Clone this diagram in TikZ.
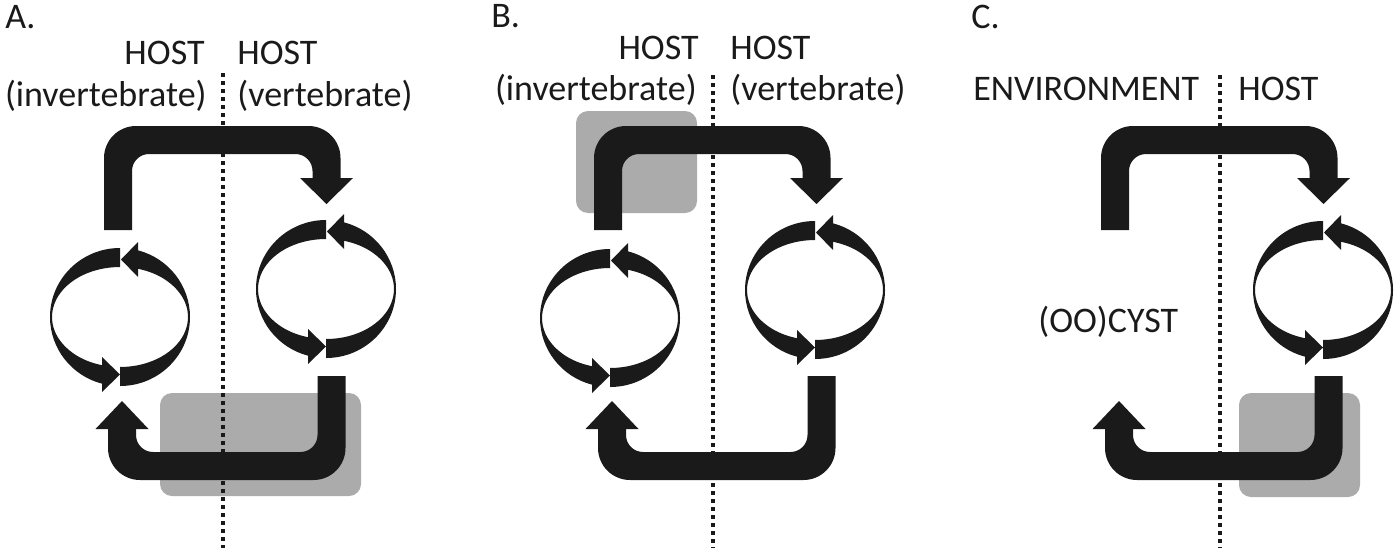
\documentclass[tikz,border=0pt]{standalone}
\usepackage{fontspec}
\setmainfont{Carlito}
\definecolor{ink}{HTML}{1A1A1A}
\definecolor{shade}{HTML}{ABABAB}
\tikzset{
  lbl/.style={inner sep=0pt, font=\fontsize{18}{21}\selectfont, text=ink},
  panellbl/.style={inner sep=0pt, font=\fontsize{18}{21}\selectfont, text=ink},
  inkfill/.style={fill=ink},
  shadebox/.style={fill=shade, rounded corners=6pt},
  divider/.style={draw=ink, line width=2pt, dash pattern=on 2pt off 2pt}
}
\newcommand\TopArrow[1]{%
  \pgfmathsetmacro\xl{#1-105}\pgfmathsetmacro\xr{#1+103.5}%
  \fill[inkfill] (\xl-14,230) -- (\xl-14,158) arc[start angle=180,end angle=270,radius=32]
    -- (\xr-18,126) arc[start angle=270,end angle=360,radius=32]
    -- (\xr+14,184) -- (\xr-14,184) -- (\xr-14,171)
    arc[start angle=0,end angle=-90,radius=17]
    -- (\xl+31,154) arc[start angle=-90,end angle=-180,radius=17]
    -- (\xl+14,230) -- cycle;
  \fill[inkfill] (\xr-26.5,178) -- (\xr+26.5,178) -- (\xr,204) -- cycle;
}
\newcommand\BottomArrow[1]{%
  \pgfmathsetmacro\xl{#1-101}\pgfmathsetmacro\xr{#1+108.5}%
  \fill[inkfill] (\xr+14,376) -- (\xr+14,448) arc[start angle=0,end angle=90,radius=32]
    -- (\xl+18,480) arc[start angle=90,end angle=180,radius=32]
    -- (\xl-14,424) -- (\xl+14,424) -- (\xl+14,435)
    arc[start angle=180,end angle=90,radius=17]
    -- (\xr-31,452) arc[start angle=90,end angle=0,radius=17]
    -- (\xr-14,376) -- cycle;
  \fill[inkfill] (\xl-26.5,429) -- (\xl+26.5,429) -- (\xl,401) -- cycle;
}
\newcommand\CycleRing[2]{%
  \fill[inkfill] (#1,#2-69) arc[start angle=270,end angle=105,x radius=70,y radius=69]
    -- ({#1+68*cos(105)},{#2+50*sin(105)}) arc[start angle=105,end angle=270,x radius=68,y radius=50] -- cycle;
  \fill[inkfill] (#1,#2+69) arc[start angle=90,end angle=-75,x radius=70,y radius=69]
    -- ({#1+68*cos(-75)},{#2+50*sin(-75)}) arc[start angle=-75,end angle=90,x radius=68,y radius=50] -- cycle;
  \fill[inkfill] (#1+18,#2-75) -- (#1+18,#2-40) -- (#1+1,#2-57.5) -- cycle;
  \fill[inkfill] (#1-18,#2+75) -- (#1-18,#2+40) -- (#1,#2+57.5) -- cycle;
}
\begin{document}
\begin{tikzpicture}[x=0.5pt,y=-0.5pt]
\useasboundingbox (0,0) rectangle (1400,557);
% grey boxes
\fill[shadebox] (160,393) rectangle (361,496);
\fill[shadebox] (576,111) rectangle (697,213);
\fill[shadebox] (1239,393) rectangle (1360,497);
% dividers
\coordinate (dAt) at (223,73); \coordinate (dAb) at (223,548);
\coordinate (dBt) at (713,75); \coordinate (dBb) at (713,548);
\coordinate (dCt) at (1220,75); \coordinate (dCb) at (1220,548);
\draw[divider] (dAt) -- (dAb);
\draw[divider] (dBt) -- (dBb);
\draw[divider] (dCt) -- (dCb);
% panel A
\TopArrow{223}
\BottomArrow{223}
\CycleRing{120}{317}
\CycleRing{326}{289}
% panel B
\TopArrow{713}
\BottomArrow{713}
\CycleRing{610}{318}
\CycleRing{815}{290}
% panel C
\TopArrow{1220}
\BottomArrow{1220}
\CycleRing{1323}{290}
% labels
\node[panellbl, anchor=base west] (la) at (5,28) {A.};
\node[lbl, anchor=base east] (hA1) at (205,64) {HOST};
\node[lbl, anchor=base east] (iA) at (207,106) {(invertebrate)};
\node[lbl, anchor=base west] (hA2) at (237,64) {HOST};
\node[lbl, anchor=base west] (vA) at (237,106) {(vertebrate)};
\node[panellbl, anchor=base west] (lb) at (491,27) {B.};
\node[lbl, anchor=base east] (hB1) at (699,59) {HOST};
\node[lbl, anchor=base east] (iB) at (697,100) {(invertebrate)};
\node[lbl, anchor=base west] (hB2) at (730,59) {HOST};
\node[lbl, anchor=base west] (vB) at (730,100) {(vertebrate)};
\node[panellbl, anchor=base west] (lc) at (971,28) {C.};
\node[lbl, anchor=base west] (env) at (973,100) {ENVIRONMENT};
\node[lbl, anchor=base west] (hC) at (1238,100) {HOST};
\node[lbl, anchor=base west] (cyst) at (1038,332) {(OO)CYST};
\end{tikzpicture}
\end{document}
